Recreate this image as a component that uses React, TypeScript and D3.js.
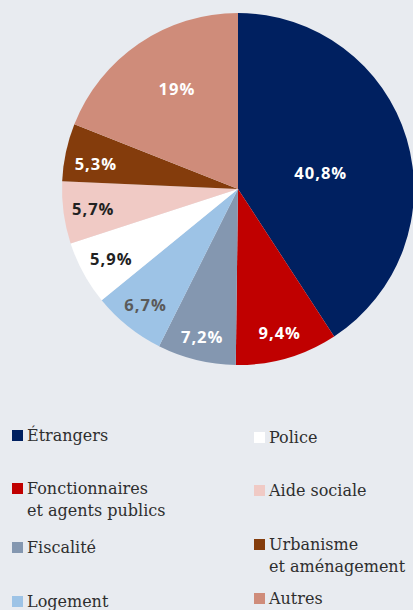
import React from "react";
import * as d3 from "d3";

const categories = [
  "Étrangers",
  "Fonctionnaires et agents publics",
  "Fiscalité",
  "Logement",
  "Police",
  "Aide sociale",
  "Urbanisme et aménagement",
  "Autres",
];
const values = [40.8, 9.4, 7.2, 6.7, 5.9, 5.7, 5.3, 19];
const valueLabels = ["40,8%", "9,4%", "7,2%", "6,7%", "5,9%", "5,7%", "5,3%", "19%"];

const colors = ["#002060", "#c00000", "#8497b0", "#9dc3e6", "#ffffff", "#f0cac5", "#843c0c", "#cf8c7a"];
const labelColors = ["#ffffff", "#ffffff", "#ffffff", "#5a5a5a", "#222222", "#222222", "#ffffff", "#ffffff"];
// label placement: radius fraction, angular shift (deg)
const labelRadius = [0.48, 0.85, 0.86, 0.84, 0.82, 0.83, 0.82, 0.67];
const labelShift = [5, 0, 0, 0, 0, 0, -2, 3];

// legend lines per item
const legendLines = [
  ["Étrangers"],
  ["Fonctionnaires", "et agents publics"],
  ["Fiscalité"],
  ["Logement"],
  ["Police"],
  ["Aide sociale"],
  ["Urbanisme", "et aménagement"],
  ["Autres"],
];
const legendBaselines = [441, 494, 553, 607, 443, 496, 550, 604];

const W = 413;
const H = 610;
const cx = 238;
const cy = 189;
const R = 176;

export default function App() {
  const pie = d3.pie<number>().sort(null).value((d) => d)(values);
  const arc = d3.arc<d3.PieArcDatum<number>>().innerRadius(0).outerRadius(R);

  return (
    <svg
      width={W}
      height={H}
      style={{ position: "fixed", left: 0, top: 0, display: "block" }}
    >
      <rect x={0} y={0} width={W} height={H} fill="#e8ebf0" />
      <g transform={`translate(${cx},${cy})`}>
        {pie.map((p, i) => (
          <path key={i} d={arc(p) || ""} fill={colors[i]} />
        ))}
        {pie.map((p, i) => {
          const mid = (p.startAngle + p.endAngle) / 2 + (labelShift[i] * Math.PI) / 180;
          const r = labelRadius[i] * R;
          const x = r * Math.sin(mid);
          const y = -r * Math.cos(mid);
          return (
            <text
              key={i}
              x={x}
              y={y}
              textAnchor="middle"
              dominantBaseline="central"
              fill={labelColors[i]}
              fontFamily="'Open Sans', sans-serif"
              fontWeight={700}
              fontSize={16.5}
              letterSpacing={1}
            >
              {valueLabels[i]}
            </text>
          );
        })}
      </g>
      <g>
        {categories.map((c, i) => {
          const col = i < 4 ? 0 : 1;
          const sx = col === 0 ? 12 : 254;
          const tx = sx + 15;
          const b = legendBaselines[i];
          return (
            <g key={c}>
              <rect x={sx} y={b - 11} width={11} height={11} fill={colors[i]} />
              <text
                x={tx}
                y={b}
                fill="#2e2e2e"
                fontFamily="'DejaVu Serif', serif"
                fontSize={16}
              >
                {legendLines[i].map((line, j) => (
                  <tspan key={j} x={tx} y={b + j * 22}>
                    {line}
                  </tspan>
                ))}
              </text>
            </g>
          );
        })}
      </g>
    </svg>
  );
}
